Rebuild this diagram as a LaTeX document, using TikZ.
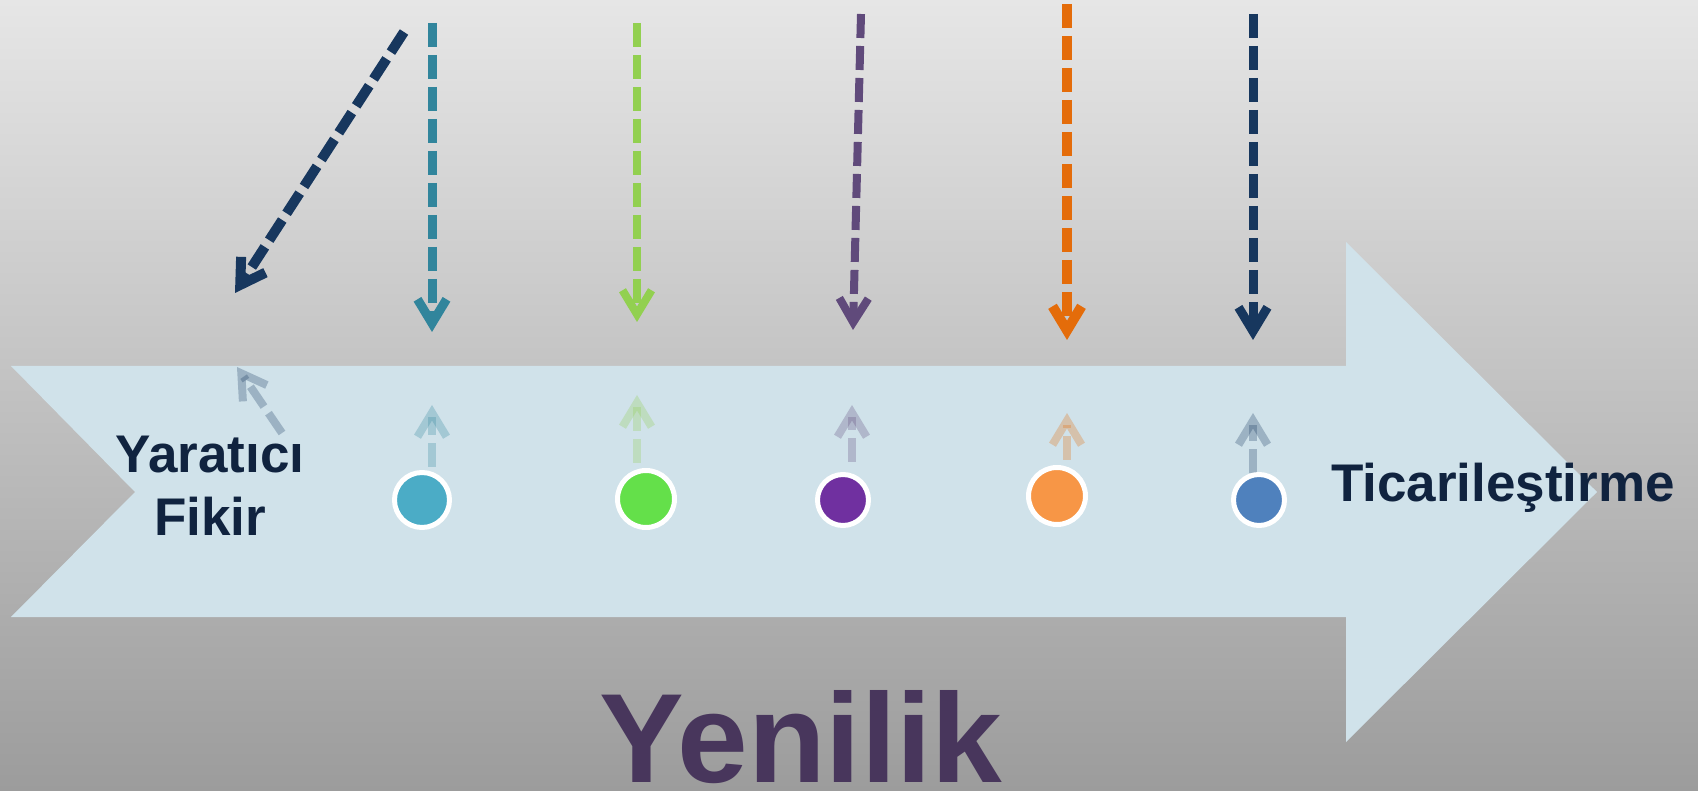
\documentclass[tikz,border=0pt]{standalone}
\usepackage{fontspec}
\setmainfont{Liberation Sans}
\usetikzlibrary{arrows.meta}
\definecolor{bgtop}{HTML}{E6E6E6}
\definecolor{bgbot}{HTML}{9C9C9C}
\definecolor{arrfill}{HTML}{D0E2EA}
\definecolor{navyA}{HTML}{17375E}
\definecolor{tealA}{HTML}{31859C}
\definecolor{greenA}{HTML}{92D050}
\definecolor{purpleA}{HTML}{604A7B}
\definecolor{orangeA}{HTML}{E46C0A}
\definecolor{txtnavy}{HTML}{10233F}
\definecolor{yenicol}{HTML}{48365C}
\definecolor{dotA}{HTML}{4BACC6}
\definecolor{dotB}{HTML}{64E04A}
\definecolor{dotC}{HTML}{7030A0}
\definecolor{dotD}{HTML}{F79646}
\definecolor{dotE}{HTML}{4F81BD}
\tikzset{
  darr/.style={line width=9pt, dash pattern=on 24pt off 8pt,
    -{Straight Barb[length=24pt,width=29pt]}},
  ghost/.style={darr, line width=8pt, opacity=0.28},
  dot/.style={circle, draw=white, line width=5pt, inner sep=0pt},
  lbl/.style={text=txtnavy, inner sep=0pt, font=\bfseries\fontsize{53}{63}\selectfont}
}
\begin{document}
\begin{tikzpicture}[x=1pt,y=-1pt]
\useasboundingbox (0,0) rectangle (1698,791);
\fill[top color=bgtop, bottom color=bgbot] (0,0) rectangle (1698,791);
% big arrow
\fill[arrfill] (11,366) -- (1346,366) -- (1346,242) -- (1597,492) -- (1346,742)
  -- (1346,617) -- (11,617) -- (135,492) -- cycle;
% coordinates for arrows
\coordinate (s0) at (404,32);   \coordinate (e0) at (235,293);
\coordinate (s1) at (432,23);   \coordinate (e1) at (432,332);
\coordinate (s2) at (637,23);   \coordinate (e2) at (637,322);
\coordinate (s3) at (861,14);   \coordinate (e3) at (853,330);
\coordinate (s4) at (1067,4);   \coordinate (e4) at (1067,340);
\coordinate (s5) at (1253,14);  \coordinate (e5) at (1253,340);
\draw[darr, navyA, line width=10pt] (s0) -- (e0);
\draw[darr, tealA] (s1) -- (e1);
\draw[darr, greenA, line width=8pt] (s2) -- (e2);
\draw[darr, purpleA, line width=8pt] (s3) -- (e3);
\draw[darr, orangeA, line width=10pt] (s4) -- (e4);
\draw[darr, navyA] (s5) -- (e5);
% ghost reflections
\coordinate (g0a) at (282,433);  \coordinate (g0b) at (237,367);
\coordinate (g1a) at (432,467);  \coordinate (g1b) at (432,405);
\coordinate (g2a) at (637,463);  \coordinate (g2b) at (637,395);
\coordinate (g3a) at (852,462);  \coordinate (g3b) at (852,405);
\coordinate (g4a) at (1067,460); \coordinate (g4b) at (1067,413);
\coordinate (g5a) at (1253,473); \coordinate (g5b) at (1253,413);
\draw[ghost, navyA] (g0a) -- (g0b);
\draw[ghost, tealA] (g1a) -- (g1b);
\draw[ghost, greenA] (g2a) -- (g2b);
\draw[ghost, purpleA] (g3a) -- (g3b);
\draw[ghost, orangeA] (g4a) -- (g4b);
\draw[ghost, navyA] (g5a) -- (g5b);
% dots
\node[dot, fill=dotA, minimum size=55pt] (c1) at (422,500) {};
\node[dot, fill=dotB, minimum size=57pt] (c2) at (646,499) {};
\node[dot, fill=dotC, minimum size=51pt] (c3) at (843,500) {};
\node[dot, fill=dotD, minimum size=57pt] (c4) at (1057,496) {};
\node[dot, fill=dotE, minimum size=51pt] (c5) at (1259,500) {};
% labels
\node[lbl, align=center, anchor=base] (yf) at (210,535) {Yaratıcı\\Fikir};
\node[lbl, anchor=base] (tc) at (1503,501) {Ticarileştirme};
\node[text=yenicol, inner sep=0pt, anchor=base,
  font=\bfseries\fontsize{127}{140}\selectfont] (yn) at (801,782) {Yenilik};
\end{tikzpicture}
\end{document}
